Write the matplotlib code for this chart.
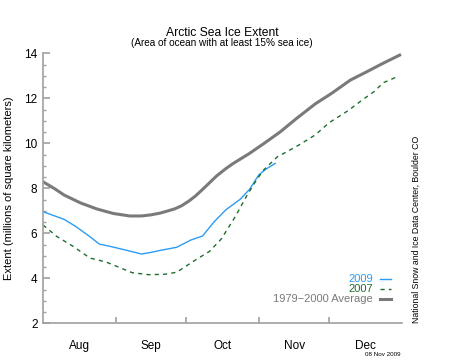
import matplotlib
matplotlib.use("Agg")
import matplotlib.pyplot as plt
from matplotlib.ticker import MultipleLocator, FixedLocator, NullFormatter

plt.rcParams['font.family'] = ['Liberation Sans', 'DejaVu Sans']

# days counted from 1 Aug
avg_days = [0, 5, 9, 16, 23, 30, 37, 42, 46, 50, 56, 59, 62, 65, 68, 71, 74, 78,
            81, 88, 94, 101, 108, 116, 123, 131, 138, 145, 152]
avg_vals = [8.29, 7.98, 7.70, 7.35, 7.08, 6.88, 6.77, 6.77, 6.82, 6.90, 7.08,
            7.22, 7.42, 7.66, 7.95, 8.25, 8.55, 8.88, 9.10, 9.55, 9.98, 10.50,
            11.10, 11.75, 12.22, 12.81, 13.18, 13.56, 13.92]

y2009_days = [0, 9, 14, 20, 24, 29, 37, 42, 46, 50, 57, 63, 68, 73, 78, 84, 88,
              92, 95, 99]
y2009_vals = [6.96, 6.62, 6.30, 5.85, 5.52, 5.41, 5.21, 5.08, 5.15, 5.24, 5.38,
              5.70, 5.88, 6.52, 7.05, 7.51, 7.95, 8.60, 8.85, 9.11]

y2007_days = [0, 6, 13, 20, 27, 34, 38, 45, 52, 57, 64, 71, 76, 82, 87, 91, 94,
              100, 104, 109, 116, 122, 130, 136, 141, 145, 151]
y2007_vals = [6.37, 5.85, 5.41, 4.90, 4.72, 4.42, 4.25, 4.16, 4.18, 4.27, 4.75,
              5.20, 5.75, 6.75, 7.70, 8.37, 8.81, 9.41, 9.63, 9.92, 10.37, 10.92,
              11.45, 11.92, 12.29, 12.69, 12.96]

month_starts = [0, 31, 61, 92, 122, 153]
month_names = ['Aug', 'Sep', 'Oct', 'Nov', 'Dec']

fig = plt.figure(figsize=(4.5, 3.6), dpi=100)
ax = fig.add_axes([43 / 450, 1 - 323.3 / 360, 359 / 450, 270 / 360])

ax.plot(y2009_days, y2009_vals, color='#2b9cf5', lw=1.0, label='2009')
ax.plot(y2007_days, y2007_vals, color='#1e6e2e', lw=1.0, dashes=(3, 3), label='2007')
ax.plot(avg_days, avg_vals, color='#7a7a7a', lw=2.2, label='1979\u22122000 Average')

ax.set_xlim(0, 153)
ax.set_ylim(2, 14)

for s in ['top', 'right']:
    ax.spines[s].set_visible(False)
for s in ['left', 'bottom']:
    ax.spines[s].set_color('#a0a0a0')
    ax.spines[s].set_linewidth(1.2)

ax.yaxis.set_major_locator(MultipleLocator(2))
ax.yaxis.set_minor_locator(MultipleLocator(0.5))
ax.tick_params(axis='y', which='major', direction='in', length=5, width=1.2,
               color='#a0a0a0', labelsize=8.5, pad=4)
ax.tick_params(axis='y', which='minor', direction='in', length=2.5, width=1.0,
               color='#a0a0a0')

ax.xaxis.set_major_locator(FixedLocator(month_starts[1:-1]))
ax.xaxis.set_major_formatter(NullFormatter())
centers = [(month_starts[i] + month_starts[i + 1]) / 2 for i in range(5)]
ax.xaxis.set_minor_locator(FixedLocator(centers))
ax.set_xticklabels(month_names, minor=True)
ax.tick_params(axis='x', which='major', direction='in', length=4, width=1.2,
               color='#a0a0a0')
ax.tick_params(axis='x', which='minor', length=0, labelsize=8.5, pad=12)

ax.set_ylabel('Extent (millions of square kilometers)', fontsize=8, labelpad=7)

leg = ax.legend(loc='lower right', bbox_to_anchor=(0.969, 0.07), frameon=False,
                markerfirst=False, fontsize=8, labelspacing=0.0,
                handlelength=1.0, handletextpad=0.6, borderpad=0,
                borderaxespad=0, labelcolor='linecolor')

fig.text(222 / 450, 1 - 33 / 360, 'Arctic Sea Ice Extent', ha='center', va='center',
         fontsize=8.7)
fig.text(222 / 450, 1 - 43 / 360, '(Area of ocean with at least 15% sea ice)',
         ha='center', va='center', fontsize=7.2)
fig.text(416 / 450, 1 - 323 / 360, 'National Snow and Ice Data Center, Boulder CO',
         rotation=90, ha='center', va='bottom', fontsize=6.3)
fig.text(383 / 450, 1 - 355 / 360, '08 Nov 2009', ha='center', va='center',
         fontsize=4.5)

fig.savefig('out.png', dpi=100)
